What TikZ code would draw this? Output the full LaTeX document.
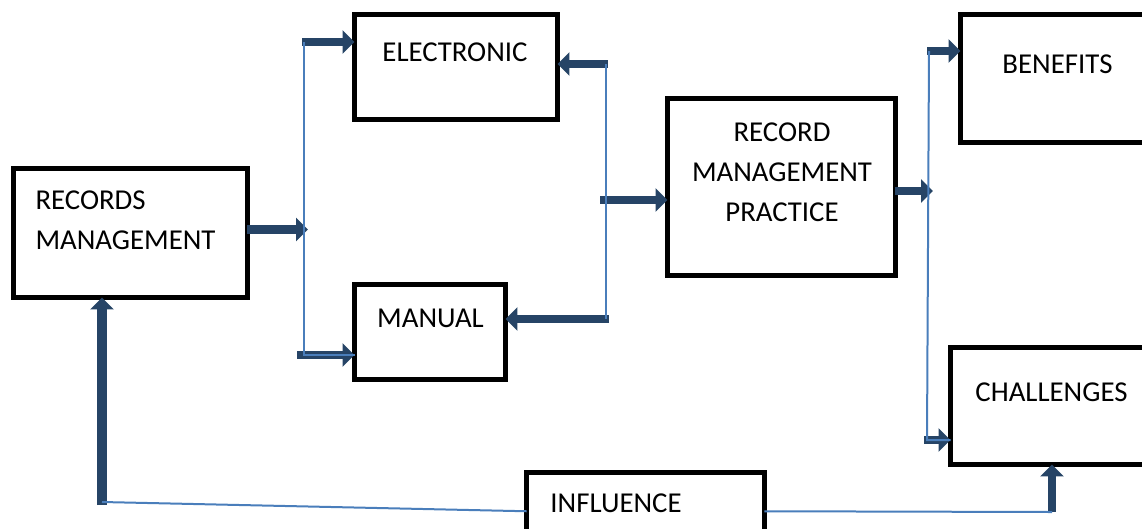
\documentclass[tikz,border=0pt]{standalone}
\usepackage{fontspec}
\setmainfont{Carlito}
\usepackage{xcolor}
\definecolor{arrowNavy}{HTML}{264466}
\definecolor{linkBlue}{HTML}{4A7EBB}
\usetikzlibrary{arrows.meta}

\begin{document}
\begin{tikzpicture}[x=0.02cm, y=-0.02cm,
  box/.style={rectangle, draw=black, line width=0.1cm, inner sep=0pt, outer sep=0pt, fill=white},
  boxtext/.style={inner sep=0pt, font=\fontsize{16.4}{22.8}\selectfont, align=center},
  fat/.style={arrowNavy, line width=0.17cm, -{Triangle[width=0.46cm,length=0.24cm]}},
  link/.style={linkBlue, line width=0.04cm}]
  \useasboundingbox (0,0) rectangle (1142,528);
  \clip (0,0) rectangle (1142,528);

  % boxes
  \node[box, minimum width=4.68cm, minimum height=2.58cm] (rm) at (130.5,233) {};
  \node[box, minimum width=4.06cm, minimum height=2.10cm] (elec) at (456,67) {};
  \node[box, minimum width=3.02cm, minimum height=1.90cm] (man) at (430,332) {};
  \node[box, minimum width=4.56cm, minimum height=3.54cm] (rmp) at (781.5,187) {};
  \node[box, minimum width=4.19cm, minimum height=2.56cm] (ben) at (1065.25,78.5) {};
  \node[box, minimum width=4.39cm, minimum height=2.34cm] (chal) at (1060.25,406) {};
  \node[box, minimum width=4.76cm, minimum height=1.55cm] (inf) at (645.5,511.25) {};

  % texts
  \node[boxtext, align=left] (rmT) at (125.5,220) {RECORDS\\MANAGEMENT};
  \node[boxtext] (elecT) at (455,52.5) {ELECTRONIC};
  \node[boxtext] (manT) at (430.5,318.5) {MANUAL};
  \node[boxtext] (rmpT) at (782,172) {RECORD\\MANAGEMENT\\PRACTICE};
  \node[boxtext] (benT) at (1057.5,64) {BENEFITS};
  \node[boxtext] (chalT) at (1051.5,392.5) {CHALLENGES};
  \node[boxtext] (infT) at (616,503.5) {INFLUENCE};

  % branch points
  \coordinate (lMid) at (308,229.5);
  \coordinate (lTop) at (302,42);
  \coordinate (lBot) at (297,355);
  \coordinate (mTop) at (608,64);
  \coordinate (mMid) at (600,200);
  \coordinate (mBot) at (609,319);
  \coordinate (rMid) at (933,191);
  \coordinate (rTop) at (927,51);
  \coordinate (rBot) at (924,440);
  \coordinate (infL) at (102,505);
  \coordinate (infR) at (1052,512);

  % block arrows
  \draw[fat] (rm.east |- lMid) -- (lMid);
  \draw[fat] (lTop) -- (elec.west |- lTop);
  \draw[fat] (lBot) -- (man.west |- lBot);
  \draw[fat] (mTop) -- (elec.east |- mTop);
  \draw[fat] (mMid) -- (rmp.west |- mMid);
  \draw[fat] (mBot) -- (man.east |- mBot);
  \draw[fat] (rmp.east |- rMid) -- (rMid);
  \draw[fat] (rTop) -- (ben.west |- rTop);
  \draw[fat] (rBot) -- (chal.west |- rBot);
  \draw[fat, line width=0.2cm] (infL) -- (rm.south -| infL);
  \draw[fat] (infR) -- (chal.south -| infR);

  % thin links
  \draw[link] (304,42) -- (304,355) -- (man.west |- lBot);
  \draw[link] (606,64) -- (606,319);
  \draw[link] (929,51) -- (927,440) -- (chal.west |- rBot);
  \draw[link] (102,502) -- (inf.west);
  \draw[link] (inf.east) -- (infR);
\end{tikzpicture}
\end{document}
